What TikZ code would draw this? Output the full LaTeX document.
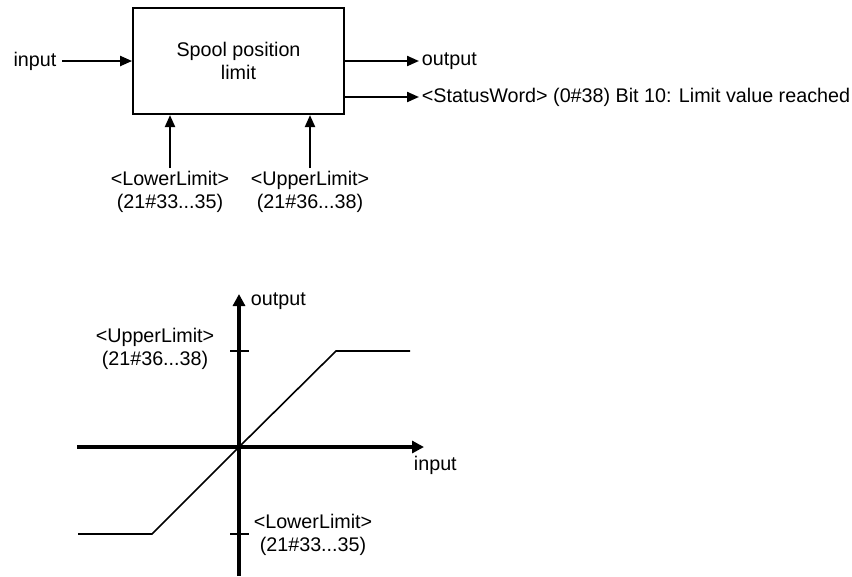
\documentclass[tikz,border=0pt]{standalone}
\usepackage{fontspec}
\setmainfont{Liberation Sans}
\usetikzlibrary{positioning,arrows.meta}

\begin{document}
\begin{tikzpicture}[x=0.75pt,y=-0.75pt,
  font=\fontsize{14.8pt}{17.3pt}\selectfont,
  every node/.style={inner sep=2pt},
  sig/.style={line width=1.6pt,-{Triangle[length=9pt,width=7.5pt]}},
  axis/.style={line width=2.4pt,-{Triangle[length=9pt,width=9pt]}},
  limbox/.style={draw,line width=1.6pt,minimum width=158pt,minimum height=79.5pt,align=center},
  lbl/.style={align=center}]
\useasboundingbox (0,0) rectangle (852,576);
% block diagram
\node[limbox] (box) at (238.5,61) {Spool position\\limit};
\node[anchor=east,inner sep=4pt] (inp) at (62,61) {input};
\node[anchor=west] (out) at (419,61) {output};
\node[anchor=west] (stat) at (419,97) {<StatusWord> (0\#38) Bit 10: Limit value reached};
\node[lbl,anchor=north] (lo) at (170,168) {<LowerLimit>\\(21\#33...35)};
\node[lbl,anchor=north] (up) at (310,168) {<UpperLimit>\\(21\#36...38)};
\draw[sig] (inp) -- (box);
\draw[sig] (box.east |- out) -- (out);
\draw[sig] (box.east |- stat) -- (stat);
\draw[sig] (lo) -- (lo |- box.south);
\draw[sig] (up) -- (up |- box.south);
% characteristic
\coordinate (o) at (239,447);
\coordinate (xl) at (77,447);
\coordinate (xr) at (424,447);
\coordinate (yb) at (239,576);
\coordinate (yt) at (239,294);
\draw[axis] (xl) -- (xr);
\draw[axis] (yb) -- (yt);
\draw[line width=1.5pt] (230,351) -- (249,351);
\draw[line width=1.5pt] (230,534) -- (249,534);
\draw[line width=1.2pt] (78,534) -- (152,534) -- (o) -- (336,351) -- (410,351);
\node[anchor=west] (yl) at (248,301) {output};
\node[anchor=west] (xlab) at (411,465) {input};
\node[lbl] (ulim) at (155,349) {<UpperLimit>\\(21\#36...38)};
\node[lbl] (llim) at (313,535) {<LowerLimit>\\(21\#33...35)};
\end{tikzpicture}
\end{document}
